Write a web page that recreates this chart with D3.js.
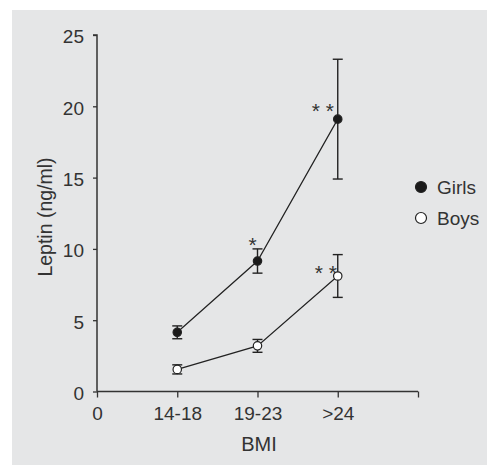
<!DOCTYPE html>
<html>
<head>
<meta charset="utf-8">
<script src="https://cdn.jsdelivr.net/npm/d3@7"></script>
<style>
  body { margin: 0; background: #fff; }
  text { font-family: "Liberation Sans", Arial, sans-serif; fill: #333; }
</style>
</head>
<body>
<svg width="487" height="465"></svg>
<script>
var categories = ["14-18", "19-23", ">24"],
    xTickLabels = ["0", "14-18", "19-23", ">24", ""],
    yTicks = [0, 5, 10, 15, 20, 25];

var girls = [4.15, 9.15, 19.1],
    girlsErr = [0.45, 0.85, 4.2],
    boys = [1.55, 3.2, 8.1],
    boysErr = [0.32, 0.45, 1.5];

var girlsStars = ["", "*", "* *"],
    boysStars = ["", "", "* *"];

var svg = d3.select("svg");

svg.append("rect")
    .attr("x", 12).attr("y", 10)
    .attr("width", 475).attr("height", 455)
    .attr("fill", "#e5e6e7");

var x = d3.scaleLinear().domain([0, 4]).range([97, 418]),
    y = d3.scaleLinear().domain([0, 25]).range([391.5, 35]);

var g = svg.append("g");

var yAxis = g.append("g")
    .attr("transform", "translate(97,0)")
    .call(d3.axisLeft(y).tickValues(yTicks).tickSize(4).tickPadding(9));

var xAxis = g.append("g")
    .attr("transform", "translate(0,391.5)")
    .call(d3.axisBottom(x).tickValues([0, 1, 2, 3, 4])
      .tickFormat(function(d) { return xTickLabels[d]; })
      .tickSize(6).tickPadding(9));

g.selectAll(".domain").attr("stroke", "#333").attr("stroke-width", 1.5);
xAxis.select(".domain").attr("d", "M97,0H418");
yAxis.select(".domain").attr("d", "M-4,35H0V391.5");
g.selectAll(".tick line").attr("stroke", "#333").attr("stroke-width", 1.3);
g.selectAll(".tick text").attr("fill", "#333").style("font-size", "19px");
yAxis.selectAll(".tick text").attr("dy", "0.42em");

svg.append("text")
    .attr("transform", "translate(52,217) rotate(-90)")
    .attr("text-anchor", "middle")
    .style("font-size", "19.5px")
    .text("Leptin (ng/ml)");

svg.append("text")
    .attr("x", 259).attr("y", 451)
    .attr("text-anchor", "middle")
    .style("font-size", "20px")
    .text("BMI");

var line = d3.line()
    .x(function(d, i) { return x(i + 1); })
    .y(function(d) { return y(d); });

function series(values, errs, stars, fill, starDx, starDy) {
  var s = svg.append("g");
  s.append("path")
      .datum(values)
      .attr("d", line)
      .attr("fill", "none")
      .attr("stroke", "#222")
      .attr("stroke-width", 1.2);

  var eb = s.selectAll(".eb").data(values).enter().append("g");
  eb.append("line")
      .attr("x1", function(d, i) { return x(i + 1); })
      .attr("x2", function(d, i) { return x(i + 1); })
      .attr("y1", function(d, i) { return y(d + errs[i]); })
      .attr("y2", function(d, i) { return y(d - errs[i]); });
  eb.append("line")
      .attr("x1", function(d, i) { return x(i + 1) - 5; })
      .attr("x2", function(d, i) { return x(i + 1) + 5; })
      .attr("y1", function(d, i) { return y(d + errs[i]); })
      .attr("y2", function(d, i) { return y(d + errs[i]); });
  eb.append("line")
      .attr("x1", function(d, i) { return x(i + 1) - 5; })
      .attr("x2", function(d, i) { return x(i + 1) + 5; })
      .attr("y1", function(d, i) { return y(d - errs[i]); })
      .attr("y2", function(d, i) { return y(d - errs[i]); });
  eb.selectAll("line").attr("stroke", "#222").attr("stroke-width", 1.4);

  s.selectAll("circle").data(values).enter().append("circle")
      .attr("cx", function(d, i) { return x(i + 1); })
      .attr("cy", function(d) { return y(d); })
      .attr("r", 4.2)
      .attr("fill", fill)
      .attr("stroke", "#222")
      .attr("stroke-width", 1.2);

  s.selectAll(".star").data(stars).enter().append("text")
      .attr("x", function(d, i) { return x(i + 1) + starDx[i]; })
      .attr("y", function(d, i) { return y(values[i]) + starDy[i]; })
      .attr("text-anchor", "middle")
      .style("font-size", "21px")
      .text(function(d) { return d; });
}

series(girls, girlsErr, girlsStars, "#1a1a1a", [0, -5, -15], [0, -9, -1]);
series(boys, boysErr, boysStars, "#fff", [0, 0, -12], [0, 0, 4]);

var legend = svg.append("g");
var legendItems = [["Girls", "#1a1a1a"], ["Boys", "#fff"]];
legendItems.forEach(function(d, i) {
  legend.append("circle")
      .attr("cx", 421).attr("cy", 187 + i * 31)
      .attr("r", 5.5)
      .attr("fill", d[1])
      .attr("stroke", "#222")
      .attr("stroke-width", 1.2);
  legend.append("text")
      .attr("x", 437).attr("y", 194 + i * 31)
      .style("font-size", "19px")
      .text(d[0]);
});
</script>
</body>
</html>
